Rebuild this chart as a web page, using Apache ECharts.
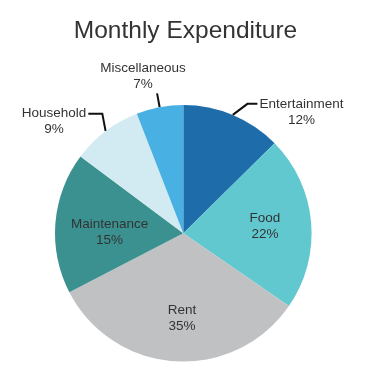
<!DOCTYPE html>
<html><head><meta charset="utf-8">
<script src="https://cdn.jsdelivr.net/npm/echarts@6/dist/echarts.min.js"></script>
<style>html,body{margin:0;padding:0;background:#fff}#c{width:371px;height:381px}</style>
</head><body><div id="c"></div>
<script>
const categories = ['Entertainment', 'Food', 'Rent', 'Maintenance', 'Household', 'Miscellaneous'];
const sliceValues = [12.6, 22.0, 32.8, 17.8, 8.9, 5.9];
const percentLabels = ['12%', '22%', '35%', '15%', '9%', '7%'];
const sliceColors = ['#1e6caa', '#62c8d0', '#c0c1c3', '#3a918f', '#d2eaf1', '#48b0e2'];
const insideLabeled = ['Food', 'Rent', 'Maintenance'];

const FONT = '"Liberation Sans", Arial, sans-serif';
const TEXT = '#333333';
const center = [183.3, 233.3];
const R = 128.3;

// label-line styling per outside label (elbowShiftX: horizontal shift of the elbow point, px)
const outsideCfg = {
  Entertainment: { length: 12, length2: 20, padTop: 16, elbowShiftX: 10 },
  Household: { length: 22, length2: 4, padTop: 16, elbowShiftX: 10 },
  Miscellaneous: { length: 14, length2: 0, padTop: 0, elbowShiftX: 0 }
};
// fine shift of inside labels
const insideShift = { Food: [-3, 0], Rent: [4, 0], Maintenance: [11, 6] };

const richStyle = { t: { align: 'center', fontSize: 13.5, fontFamily: FONT, color: TEXT, lineHeight: 16 } };
const fmt = p => '{t|' + p.name + '}\n{t|' + percentLabels[p.dataIndex] + '}';

const mainData = categories.map((name, i) => {
  const o = outsideCfg[name];
  return {
    name: name,
    value: sliceValues[i],
    itemStyle: { color: sliceColors[i] },
    label: o ? { show: true, padding: [o.padTop, 0, 0, 0] } : { show: false },
    labelLine: o ? { show: true, length: o.length, length2: o.length2 } : { show: false }
  };
});

const innerData = categories.map((name, i) => ({
  name: name,
  value: sliceValues[i],
  itemStyle: { color: 'rgba(0,0,0,0)' },
  label: { show: insideLabeled.indexOf(name) >= 0 }
}));

const chart = echarts.init(document.getElementById('c'), null, { renderer: 'canvas' });
chart.setOption({
  animation: false,
  backgroundColor: '#ffffff',
  title: {
    text: 'Monthly Expenditure',
    left: 'center',
    top: 19,
    padding: 0,
    textStyle: { fontSize: 24.5, fontWeight: 'normal', color: TEXT, fontFamily: FONT }
  },
  series: [
    {
      type: 'pie',
      center: center,
      radius: R,
      startAngle: 90,
      clockwise: true,
      avoidLabelOverlap: false,
      emphasis: { disabled: true },
      data: mainData,
      label: {
        position: 'outside',
        distanceToLabelLine: 2,
        formatter: fmt,
        rich: richStyle
      },
      labelLine: { lineStyle: { color: '#111111', width: 2 } },
      labelLayout: function (p) {
        const name = categories[p.dataIndex];
        const o = outsideCfg[name];
        const pts = p.labelLinePoints;
        if (!o || !pts) return {};
        if (name === 'Miscellaneous') {
          return {
            x: pts[1][0] - 14,
            y: pts[1][1] - 1,
            align: 'center',
            verticalAlign: 'bottom',
            labelLinePoints: [pts[0], pts[1]]
          };
        }
        return {
          labelLinePoints: [pts[0], [pts[1][0] + o.elbowShiftX, pts[1][1]], pts[2]]
        };
      }
    },
    {
      type: 'pie',
      center: center,
      radius: 164,
      startAngle: 90,
      clockwise: true,
      silent: true,
      avoidLabelOverlap: false,
      emphasis: { disabled: true },
      data: innerData,
      label: { position: 'inside', formatter: fmt, rich: richStyle },
      labelLine: { show: false },
      labelLayout: function (p) {
        const s = insideShift[categories[p.dataIndex]];
        if (!s) return {};
        return {
          x: p.labelRect.x + p.labelRect.width / 2 + s[0],
          y: p.labelRect.y + p.labelRect.height / 2 + s[1]
        };
      }
    }
  ]
});
</script>
</body></html>
